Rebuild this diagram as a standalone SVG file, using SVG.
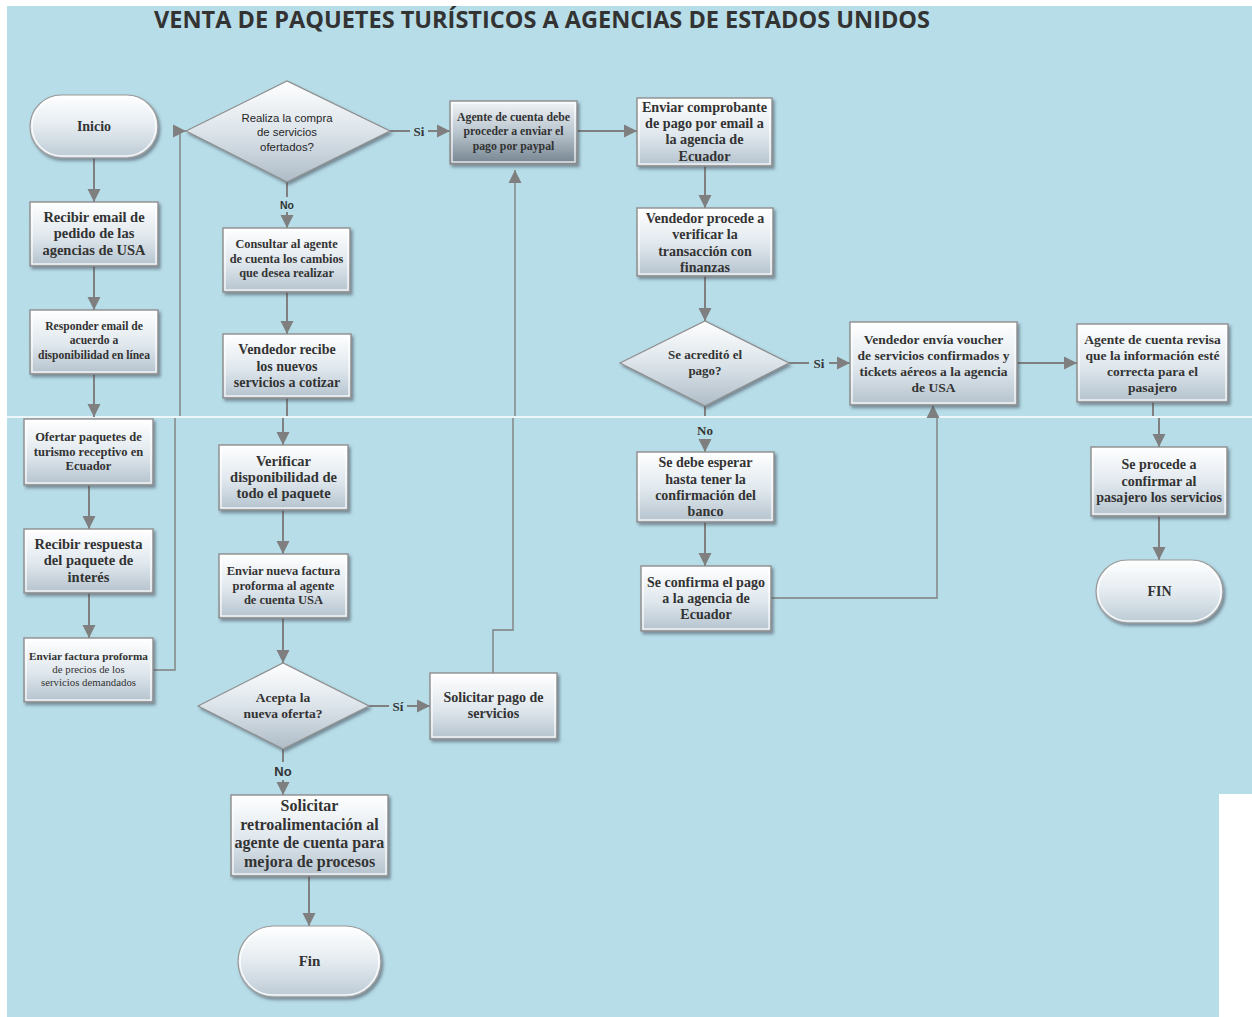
<svg xmlns="http://www.w3.org/2000/svg" width="1252" height="1017" viewBox="0 0 1252 1017">
  <defs>
    <linearGradient id="gBox" x1="0" y1="0" x2="0" y2="1">
      <stop offset="0" stop-color="#ffffff"/>
      <stop offset="0.55" stop-color="#dfe7ed"/>
      <stop offset="1" stop-color="#b4c2cd"/>
    </linearGradient>
    <linearGradient id="gDark" x1="0" y1="0" x2="0" y2="1">
      <stop offset="0" stop-color="#f2f5f7"/>
      <stop offset="0.5" stop-color="#b9c5ce"/>
      <stop offset="1" stop-color="#74838f"/>
    </linearGradient>
    <linearGradient id="gPill" x1="0" y1="0" x2="0" y2="1">
      <stop offset="0" stop-color="#ffffff"/>
      <stop offset="0.5" stop-color="#e4ebf0"/>
      <stop offset="1" stop-color="#bccad4"/>
    </linearGradient>
    <linearGradient id="gDia" x1="0" y1="0" x2="0" y2="1">
      <stop offset="0" stop-color="#ffffff"/>
      <stop offset="0.5" stop-color="#dce4ea"/>
      <stop offset="1" stop-color="#aebcc7"/>
    </linearGradient>
    <filter id="sh" x="-10%" y="-10%" width="125%" height="130%">
      <feDropShadow dx="2" dy="2.5" stdDeviation="1.5" flood-color="#3c4a55" flood-opacity="0.55"/>
    </filter>
    <marker id="ar" markerUnits="userSpaceOnUse" markerWidth="14" markerHeight="14" viewBox="0 0 14 14" refX="13" refY="7" orient="auto">
      <path d="M0,0.5 L13,7 L0,13.5 Z" fill="#7f7f7f"/>
    </marker>
    <style>
      .n { fill: url(#gBox); stroke: #8e8e8e; stroke-width: 1.4; filter: url(#sh); }
      .nd { fill: url(#gDark); stroke: #8e8e8e; stroke-width: 1.4; filter: url(#sh); }
      .p { fill: url(#gPill); stroke: #9a9a9a; stroke-width: 1.2; filter: url(#sh); }
      .d { fill: url(#gDia); stroke: #8e8e8e; stroke-width: 1.2; filter: url(#sh); }
      .in { fill: none; stroke: #ffffff; stroke-opacity: 0.85; stroke-width: 1.4; }
      .t { font-family: "Liberation Serif", "Times New Roman", serif; font-weight: bold; fill: #333333; text-anchor: middle; }
      .s { font-family: "Liberation Sans", Arial, sans-serif; fill: #262626; text-anchor: middle; }
      .c { fill: none; stroke: #808080; stroke-width: 2; }
      .ct { fill: none; stroke: #808080; stroke-width: 1.4; }
      .lb { font-family: "Liberation Serif", "Times New Roman", serif; font-weight: bold; fill: #333333; text-anchor: middle; }
      .ls { font-family: "Liberation Sans", Arial, sans-serif; font-weight: bold; fill: #333333; text-anchor: middle; }
    </style>
  </defs>

  <!-- page background -->
  <rect width="1252" height="1017" fill="#ffffff"/>
  <path d="M7,6 H1252 V794 H1219 V1017 H7 Z" fill="#b7dde8"/>
  <line x1="7" y1="417" x2="1252" y2="417" stroke="#ffffff" stroke-width="1.6"/>

  <text x="542" y="28" font-family="'Open Sans', 'Liberation Sans', sans-serif" font-weight="bold" font-size="23" fill="#333333" text-anchor="middle" textLength="776" lengthAdjust="spacingAndGlyphs">VENTA DE PAQUETES TURÍSTICOS A AGENCIAS DE ESTADOS UNIDOS</text>

  <!-- connectors -->
  <g id="connectors">
    <path class="c" d="M94,158 V202" marker-end="url(#ar)"/>
    <path class="c" d="M94,266 V310" marker-end="url(#ar)"/>
    <path class="c" d="M94,374 V417" marker-end="url(#ar)"/>
    <path class="c" d="M89,485 V529" marker-end="url(#ar)"/>
    <path class="c" d="M89,593 V638" marker-end="url(#ar)"/>
    <path class="ct" d="M153,670 H175 V418"/>
    <path class="ct" d="M180,416 V131 H186" marker-end="url(#ar)"/>
    <path class="c" d="M390,131 H410"/>
    <path class="c" d="M428,131 H450" marker-end="url(#ar)"/>
    <path class="c" d="M287,182 V197"/>
    <path class="c" d="M287,212 V228" marker-end="url(#ar)"/>
    <path class="c" d="M287,292 V334" marker-end="url(#ar)"/>
    <path class="c" d="M287,398 V416"/>
    <path class="c" d="M283,418 V445" marker-end="url(#ar)"/>
    <path class="c" d="M283,510 V554" marker-end="url(#ar)"/>
    <path class="c" d="M283,618 V663" marker-end="url(#ar)"/>
    <path class="c" d="M369,706 H389"/>
    <path class="c" d="M407,706 H430" marker-end="url(#ar)"/>
    <path class="c" d="M283,749 V762"/>
    <path class="c" d="M283,780 V795" marker-end="url(#ar)"/>
    <path class="ct" d="M493,673 V630 H513 V418"/>
    <path class="ct" d="M515,416 V170" marker-end="url(#ar)"/>
    <path class="c" d="M577,131 H637" marker-end="url(#ar)"/>
    <path class="c" d="M705,166 V208" marker-end="url(#ar)"/>
    <path class="c" d="M705,276 V321" marker-end="url(#ar)"/>
    <path class="c" d="M789,363 H809"/>
    <path class="c" d="M829,363 H850" marker-end="url(#ar)"/>
    <path class="c" d="M705,406 V416"/>
    <path class="c" d="M705,439 V452" marker-end="url(#ar)"/>
    <path class="c" d="M705,522 V566" marker-end="url(#ar)"/>
    <path class="ct" d="M771,598 H937 V418"/>
    <path class="c" d="M933,416 V405" marker-end="url(#ar)"/>
    <path class="c" d="M1017,363 H1077" marker-end="url(#ar)"/>
    <path class="c" d="M1153,402 V416"/>
    <path class="c" d="M1159,418 V447" marker-end="url(#ar)"/>
    <path class="c" d="M1159,516 V560" marker-end="url(#ar)"/>
    <path class="c" d="M309,876 V926" marker-end="url(#ar)"/>

    <text class="lb" x="419" y="136" font-size="13">Si</text>
    <text class="ls" x="287" y="209" font-size="10.5">No</text>
    <text class="lb" x="398" y="711" font-size="13">Sí</text>
    <text class="ls" x="283" y="776" font-size="13">No</text>
    <text class="lb" x="819" y="368" font-size="13">Si</text>
    <text class="lb" x="705" y="435" font-size="13">No</text>
  </g>

  <!-- left column -->
  <g id="inicio">
    <rect class="p" x="30" y="95" width="128" height="63" rx="31.5"/>
    <rect class="in" x="32" y="97" width="124" height="59" rx="29.5"/>
    <text class="t" x="94" y="131" font-size="14">Inicio</text>
  </g>
  <g id="recibir-email">
    <rect class="n" x="30" y="202" width="128" height="64"/>
    <rect class="in" x="32" y="204" width="124" height="60"/>
    <text class="t" x="94" font-size="14.5"><tspan x="94" y="222">Recibir email de</tspan><tspan x="94" y="238">pedido de las</tspan><tspan x="94" y="255">agencias de USA</tspan></text>
  </g>
  <g id="responder-email">
    <rect class="n" x="30" y="310" width="128" height="64"/>
    <rect class="in" x="32" y="312" width="124" height="60"/>
    <text class="t" font-size="11.6"><tspan x="94" y="330">Responder email de</tspan><tspan x="94" y="344">acuerdo a</tspan><tspan x="94" y="359">disponibilidad en línea</tspan></text>
  </g>
  <g id="ofertar">
    <rect class="n" x="24" y="419" width="129" height="66"/>
    <rect class="in" x="26" y="421" width="125" height="62"/>
    <text class="t" font-size="12.5"><tspan x="88.5" y="441">Ofertar paquetes de</tspan><tspan x="88.5" y="456">turismo receptivo en</tspan><tspan x="88.5" y="470">Ecuador</tspan></text>
  </g>
  <g id="recibir-respuesta">
    <rect class="n" x="24" y="529" width="129" height="64"/>
    <rect class="in" x="26" y="531" width="125" height="60"/>
    <text class="t" font-size="14.5"><tspan x="88.5" y="549">Recibir respuesta</tspan><tspan x="88.5" y="565">del paquete de</tspan><tspan x="88.5" y="582">interés</tspan></text>
  </g>
  <g id="enviar-factura">
    <rect class="n" x="24" y="638" width="129" height="64"/>
    <rect class="in" x="26" y="640" width="125" height="60"/>
    <text class="t" font-size="11.2"><tspan x="88.5" y="660">Enviar factura proforma</tspan><tspan x="88.5" y="673" font-size="10.8" font-weight="normal">de precios de los</tspan><tspan x="88.5" y="686" font-size="10.8" font-weight="normal">servicios demandados</tspan></text>
  </g>

  <!-- second column -->
  <g id="realiza-compra">
    <polygon class="d" points="186,131 287,81 390,131 287,182"/>
    <text class="s" font-size="11.4"><tspan x="287" y="122">Realiza la compra</tspan><tspan x="287" y="136">de servicios</tspan><tspan x="287" y="151">ofertados?</tspan></text>
  </g>
  <g id="consultar">
    <rect class="n" x="223" y="228" width="127" height="64"/>
    <rect class="in" x="225" y="230" width="123" height="60"/>
    <text class="t" font-size="12.3"><tspan x="286.5" y="248">Consultar al agente</tspan><tspan x="286.5" y="263">de cuenta los cambios</tspan><tspan x="286.5" y="277">que desea realizar</tspan></text>
  </g>
  <g id="vendedor-recibe">
    <rect class="n" x="223" y="334" width="128" height="64"/>
    <rect class="in" x="225" y="336" width="124" height="60"/>
    <text class="t" font-size="14"><tspan x="287" y="354">Vendedor recibe</tspan><tspan x="287" y="371">los nuevos</tspan><tspan x="287" y="387">servicios a cotizar</tspan></text>
  </g>
  <g id="verificar">
    <rect class="n" x="219" y="445" width="129" height="65"/>
    <rect class="in" x="221" y="447" width="125" height="61"/>
    <text class="t" font-size="14.5"><tspan x="283.5" y="466">Verificar</tspan><tspan x="283.5" y="482">disponibilidad de</tspan><tspan x="283.5" y="498">todo el paquete</tspan></text>
  </g>
  <g id="enviar-nueva-factura">
    <rect class="n" x="219" y="554" width="129" height="64"/>
    <rect class="in" x="221" y="556" width="125" height="60"/>
    <text class="t" font-size="12.5"><tspan x="283.5" y="575">Enviar nueva factura</tspan><tspan x="283.5" y="590">proforma al agente</tspan><tspan x="283.5" y="604">de cuenta USA</tspan></text>
  </g>
  <g id="acepta-oferta">
    <polygon class="d" points="198,706 283,663 369,706 283,749"/>
    <text class="t" font-size="13.5"><tspan x="283" y="702">Acepta la</tspan><tspan x="283" y="718">nueva oferta?</tspan></text>
  </g>
  <g id="solicitar-pago">
    <rect class="n" x="430" y="673" width="127" height="66"/>
    <rect class="in" x="432" y="675" width="123" height="62"/>
    <text class="t" font-size="14"><tspan x="493.5" y="702">Solicitar pago de</tspan><tspan x="493.5" y="718">servicios</tspan></text>
  </g>
  <g id="solicitar-retro">
    <rect class="n" x="231" y="795" width="157" height="81"/>
    <rect class="in" x="233" y="797" width="153" height="77"/>
    <text class="t" font-size="16"><tspan x="309.5" y="811">Solicitar</tspan><tspan x="309.5" y="830">retroalimentación al</tspan><tspan x="309.5" y="848">agente de cuenta para</tspan><tspan x="309.5" y="867">mejora de procesos</tspan></text>
  </g>
  <g id="fin">
    <rect class="p" x="238" y="926" width="143" height="71" rx="35.5"/>
    <rect class="in" x="240" y="928" width="139" height="67" rx="33.5"/>
    <text class="t" x="309.5" y="966" font-size="15">Fin</text>
  </g>

  <!-- payment column -->
  <g id="enviar-paypal">
    <rect class="nd" x="450" y="101" width="127" height="63"/>
    <rect class="in" x="452" y="103" width="123" height="59"/>
    <text class="t" font-size="11.8"><tspan x="513.5" y="121">Agente de cuenta debe</tspan><tspan x="513.5" y="135">proceder a enviar el</tspan><tspan x="513.5" y="150">pago por paypal</tspan></text>
  </g>
  <g id="enviar-comprobante">
    <rect class="n" x="637" y="98" width="135" height="68"/>
    <rect class="in" x="639" y="100" width="131" height="64"/>
    <text class="t" font-size="14.2"><tspan x="704.5" y="112">Enviar comprobante</tspan><tspan x="704.5" y="128">de pago por email a</tspan><tspan x="704.5" y="144">la agencia de</tspan><tspan x="704.5" y="161">Ecuador</tspan></text>
  </g>
  <g id="verificar-transaccion">
    <rect class="n" x="637" y="208" width="136" height="68"/>
    <rect class="in" x="639" y="210" width="132" height="64"/>
    <text class="t" font-size="14"><tspan x="705" y="223">Vendedor procede a</tspan><tspan x="705" y="239">verificar la</tspan><tspan x="705" y="256">transacción con</tspan><tspan x="705" y="272">finanzas</tspan></text>
  </g>
  <g id="se-acredito">
    <polygon class="d" points="620,363 705,321 789,363 705,406"/>
    <text class="t" font-size="13"><tspan x="705" y="359">Se acreditó el</tspan><tspan x="705" y="375">pago?</tspan></text>
  </g>
  <g id="esperar-banco">
    <rect class="n" x="637" y="452" width="137" height="70"/>
    <rect class="in" x="639" y="454" width="133" height="66"/>
    <text class="t" font-size="14"><tspan x="705.5" y="467">Se debe esperar</tspan><tspan x="705.5" y="484">hasta tener la</tspan><tspan x="705.5" y="500">confirmación del</tspan><tspan x="705.5" y="516">banco</tspan></text>
  </g>
  <g id="confirma-pago">
    <rect class="n" x="641" y="566" width="130" height="65"/>
    <rect class="in" x="643" y="568" width="126" height="61"/>
    <text class="t" font-size="14"><tspan x="706" y="587">Se confirma el pago</tspan><tspan x="706" y="603">a la agencia de</tspan><tspan x="706" y="619">Ecuador</tspan></text>
  </g>

  <!-- right side -->
  <g id="enviar-voucher">
    <rect class="n" x="850" y="322" width="167" height="83"/>
    <rect class="in" x="852" y="324" width="163" height="79"/>
    <text class="t" font-size="13.5"><tspan x="933.5" y="344">Vendedor envía voucher</tspan><tspan x="933.5" y="360">de servicios confirmados y</tspan><tspan x="933.5" y="376">tickets aéreos a la agencia</tspan><tspan x="933.5" y="392">de USA</tspan></text>
  </g>
  <g id="agente-revisa">
    <rect class="n" x="1077" y="324" width="151" height="78"/>
    <rect class="in" x="1079" y="326" width="147" height="74"/>
    <text class="t" font-size="13.5"><tspan x="1152.5" y="344">Agente de cuenta revisa</tspan><tspan x="1152.5" y="360">que la información esté</tspan><tspan x="1152.5" y="376">correcta para el</tspan><tspan x="1152.5" y="392">pasajero</tspan></text>
  </g>
  <g id="confirmar-pasajero">
    <rect class="n" x="1091" y="447" width="136" height="69"/>
    <rect class="in" x="1093" y="449" width="132" height="65"/>
    <text class="t" font-size="14"><tspan x="1159" y="469">Se procede a</tspan><tspan x="1159" y="486">confirmar al</tspan><tspan x="1159" y="502">pasajero los servicios</tspan></text>
  </g>
  <g id="fin-final">
    <rect class="p" x="1096" y="560" width="127" height="63" rx="31.5"/>
    <rect class="in" x="1098" y="562" width="123" height="59" rx="29.5"/>
    <text class="t" x="1159.5" y="596" font-size="14">FIN</text>
  </g>
</svg>
